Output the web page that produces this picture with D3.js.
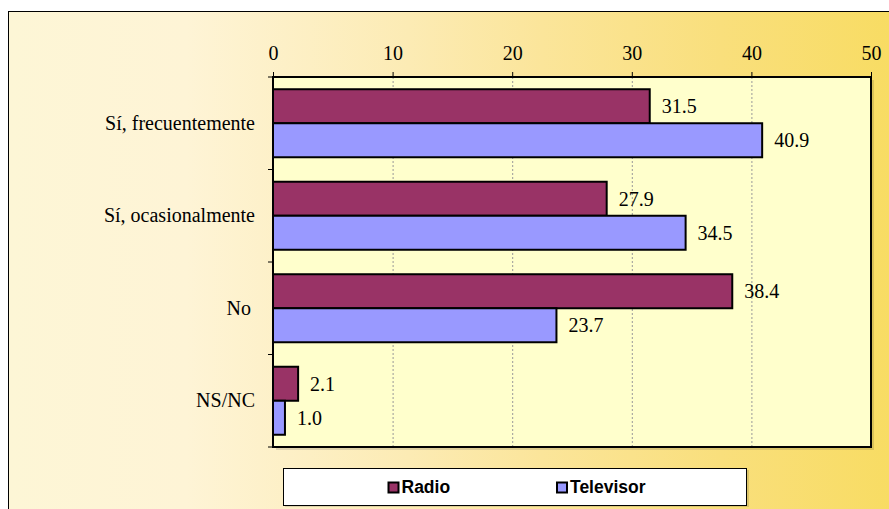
<!DOCTYPE html>
<html><head><meta charset="utf-8">
<script src="https://cdn.jsdelivr.net/npm/d3@7"></script>
<style>
html,body{margin:0;padding:0;background:#fff;}
svg{display:block;}
.serif{font-family:"Liberation Serif","Times New Roman","DejaVu Serif",serif;}
.sans{font-family:"Liberation Sans",Arial,sans-serif;}
</style></head>
<body>
<svg id="chart" width="889" height="509"></svg>
<script>
const categories = ["Sí, frecuentemente", "Sí, ocasionalmente", "No", "NS/NC"];
const seriesNames = ["Radio", "Televisor"];
const radioValues = [31.5, 27.9, 38.4, 2.1];
const televisorValues = [40.9, 34.5, 23.7, 1.0];
const xTicks = [0, 10, 20, 30, 40, 50];
const seriesColors = ["#993366", "#9999FF"];

(function () {
const svg = d3.select("#chart");
const defs = svg.append("defs");
const grad = defs.append("linearGradient").attr("id", "bg").attr("x1", "0").attr("x2", "1").attr("y1", "0").attr("y2", "0");
[["0%", "#fdf6d6"], ["20%", "#fef4d6"], ["45%", "#fcebb4"], ["60%", "#fbe59a"], ["80%", "#f9df7c"], ["100%", "#f8dc62"]]
  .forEach(([o, c]) => grad.append("stop").attr("offset", o).attr("stop-color", c));

svg.append("rect").attr("x", 8.5).attr("y", 11.5).attr("width", 890).attr("height", 510)
  .attr("fill", "url(#bg)").attr("stroke", "#000").attr("stroke-width", 1);

const pL = 273, pR = 871, pT = 77, pB = 447;
const x = d3.scaleLinear().domain([0, 50]).range([pL, pR]);
const y = d3.scaleBand().domain(categories).range([pT, pB]).padding(0);
const ys = d3.scaleBand().domain(seriesNames).range([0, y.bandwidth()]).paddingInner(0).paddingOuter(0.36);

// shadow
svg.append("rect").attr("x", pL + 3).attr("y", pT + 3).attr("width", pR - pL).attr("height", pB - pT)
  .attr("fill", "#000").attr("opacity", 0.12);
svg.append("rect").attr("x", pL).attr("y", pT).attr("width", pR - pL).attr("height", pB - pT)
  .attr("fill", "#FFFFCC");

svg.append("g").selectAll("line").data(xTicks.filter(t => t > 0 && t < 50)).join("line")
  .attr("x1", d => x(d) + 0.5).attr("x2", d => x(d) + 0.5).attr("y1", pT).attr("y2", pB)
  .attr("stroke", "#999").attr("stroke-width", 1).attr("stroke-dasharray", "2,2");

const data = categories.map((c, i) => ({c, vals: [radioValues[i], televisorValues[i]]}));
const groups = svg.append("g").selectAll("g").data(data).join("g")
  .attr("transform", d => `translate(0,${y(d.c)})`);
groups.selectAll("rect").data(d => d.vals.map((v, j) => ({v, s: seriesNames[j], j}))).join("rect")
  .attr("x", x(0)).attr("y", d => ys(d.s)).attr("width", d => x(d.v) - x(0)).attr("height", ys.bandwidth())
  .attr("fill", d => seriesColors[d.j]).attr("stroke", "#000").attr("stroke-width", 2);
groups.selectAll("text").data(d => d.vals.map((v, j) => ({v, s: seriesNames[j]}))).join("text")
  .attr("class", "serif")
  .attr("x", d => x(d.v) + 12).attr("y", d => ys(d.s) + ys.bandwidth() / 2).attr("dy", "0.35em")
  .attr("font-size", 20).attr("fill", "#000")
  .text(d => d.v.toFixed(1));

svg.append("rect").attr("x", pL).attr("y", pT).attr("width", pR - pL).attr("height", pB - pT)
  .attr("fill", "none").attr("stroke", "#000").attr("stroke-width", 2);

const xAxis = d3.axisTop(x).tickValues(xTicks).tickSize(5).tickPadding(12).tickFormat(d3.format("d"));
const gx = svg.append("g").attr("transform", `translate(0,${pT})`).call(xAxis);
gx.attr("font-family", null).attr("font-size", null);
gx.select(".domain").remove();
gx.selectAll("line").attr("stroke", "#000");
gx.selectAll("text").attr("class", "serif").attr("font-size", 20).attr("fill", "#000");

const yAxis = d3.axisLeft(y).tickSize(0).tickPadding(18);
const gy = svg.append("g").attr("transform", `translate(${pL},0)`).call(yAxis);
gy.attr("font-family", null).attr("font-size", null);
gy.select(".domain").remove();
gy.selectAll("text").attr("class", "serif").attr("font-size", 20).attr("fill", "#000")
  .attr("dx", d => d === "No" ? -4 : 0);
svg.append("g").selectAll("line").data(categories).join("line")
  .attr("x1", pL - 5).attr("x2", pL).attr("y1", d => y(d) + y.bandwidth()).attr("y2", d => y(d) + y.bandwidth())
  .attr("stroke", "#000");
svg.append("line").attr("x1", pL - 5).attr("x2", pL).attr("y1", pT).attr("y2", pT).attr("stroke", "#000");

const lg = svg.append("g");
lg.append("rect").attr("x", 285).attr("y", 470).attr("width", 464).attr("height", 37)
  .attr("fill", "#000").attr("opacity", 0.12);
lg.append("rect").attr("x", 283.5).attr("y", 468.5).attr("width", 463).attr("height", 37)
  .attr("fill", "#fff").attr("stroke", "#000").attr("stroke-width", 1);
const legX = [388.5, 557];
seriesNames.forEach((s, i) => {
  lg.append("rect").attr("x", legX[i]).attr("y", 482.5).attr("width", 10).attr("height", 10)
    .attr("fill", seriesColors[i]).attr("stroke", "#000").attr("stroke-width", 2);
  lg.append("text").attr("class", "sans").attr("x", legX[i] + 13).attr("y", 493)
    .attr("font-weight", "bold").attr("font-size", 17.5)
    .attr("fill", "#000").text(s);
});
})();
</script>
</body></html>
